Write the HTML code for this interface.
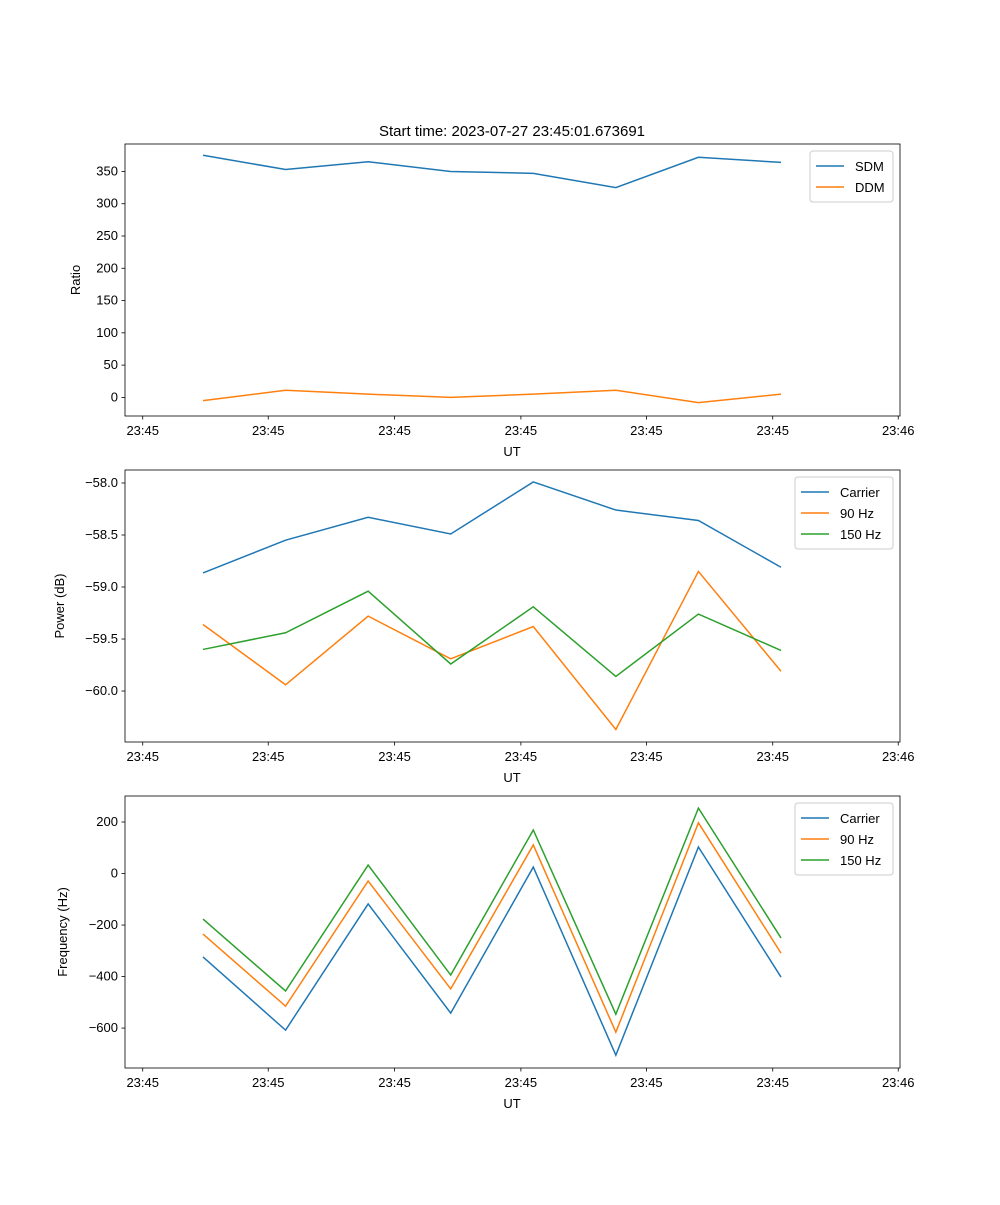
<!DOCTYPE html>
<html><head><meta charset="utf-8"><style>body{margin:0;background:#fff}svg{font-family:"Liberation Sans","DejaVu Sans",sans-serif}</style></head>
<body>
<svg id="fig" width="1000" height="1200" viewBox="0 0 1000 1200">
<text x="512" y="136" font-size="15" text-anchor="middle">Start time: 2023-07-27 23:45:01.673691</text>
</svg>
<script>
const xTickLabels = ["23:45","23:45","23:45","23:45","23:45","23:45","23:46"];
const xTickPos = [-0.73,0.79,2.32,3.85,5.37,6.9,8.42];
const sdm = [375,353,365,350,347,325,372,364];
const ddm = [-5,11,5,0,5,11,-8,5];
const carrierPow = [-58.865,-58.55,-58.33,-58.49,-57.99,-58.26,-58.36,-58.81];
const hz90Pow = [-59.36,-59.94,-59.28,-59.69,-59.38,-60.37,-58.85,-59.81];
const hz150Pow = [-59.6,-59.44,-59.04,-59.74,-59.19,-59.86,-59.26,-59.61];
const carrierFreq = [-324,-608,-118,-542,25,-705,103,-402];
const hz90Freq = [-235,-515,-29,-448,111,-616,197,-309];
const hz150Freq = [-177,-456,33,-394,169,-546,254,-250];
const ticks1 = [0,50,100,150,200,250,300,350];
const ticks2 = [-60.0,-59.5,-59.0,-58.5,-58.0];
const ticks3 = [-600,-400,-200,0,200];
const NS="http://www.w3.org/2000/svg", svg=document.getElementById('fig');
function mk(t,a,p){const e=document.createElementNS(NS,t);for(const k in a)e.setAttribute(k,a[k]);(p||svg).appendChild(e);return e;}
const L=125,R=900;
const xs=i=>203+i*82.57;
function panel(name,top,bot,ymin,ymax,ticks,fmt,ylabel,series,legend){
  const g=mk('g',{});
  
  
  const ys=v=>bot-(v-ymin)/(ymax-ymin)*(bot-top);
  series.forEach(s=>{
    const p=mk('polyline',{points:s.d.map((v,i)=>xs(i)+','+ys(v)).join(' '),fill:'none',stroke:s.c,'stroke-width':1.5},g);
    
    
  });
  const fr=mk('rect',{x:L,y:top,width:R-L,height:bot-top,fill:'none',stroke:'#000','stroke-width':0.8},g);
  
  
  ticks.forEach(t=>{const y=ys(t);mk('line',{x1:L-3.5,x2:L,y1:y,y2:y,stroke:'#000','stroke-width':0.8},g);
    const tx=mk('text',{x:L-7,y:y+4,'font-size':13,'text-anchor':'end'},g);tx.textContent=fmt(t);
    
    });
  xTickPos.forEach((v,i)=>{const x=xs(v);mk('line',{x1:x,x2:x,y1:bot,y2:bot+3.5,stroke:'#000','stroke-width':0.8},g);
    const tx=mk('text',{x:x,y:bot+19,'font-size':13,'text-anchor':'middle'},g);tx.textContent=xTickLabels[i];
    
    });
  const xl=mk('text',{x:512,y:bot+40,'font-size':13,'text-anchor':'middle'},g);xl.textContent='UT';
  
  
  const yl=mk('text',{x:0,y:0,'font-size':13,'text-anchor':'middle',transform:`translate(${legend.yx},${(top+bot)/2}) rotate(-90)`},g);yl.textContent=ylabel;
  
  
  const lg=mk('g',{},g);
  
  
  const w=legend.w,h=series.length*21+9,lx=R-7-w,ly=top+7;
  mk('rect',{x:lx,y:ly,width:w,height:h,fill:'#fff',stroke:'#ccc',rx:3},lg);
  series.forEach((s,i)=>{const y=ly+15+i*21;
    mk('line',{x1:lx+6,x2:lx+34,y1:y,y2:y,stroke:s.c,'stroke-width':1.5},lg);
    const t=mk('text',{x:lx+45,y:y+5,'font-size':13},lg);t.textContent=s.n;
    
    });
}
const B='#1f77b4',O='#ff7f0e',G='#2ca02c';
panel('ratio',144,416,-28.8,392.5,ticks1,t=>t,'Ratio',[{n:'SDM',d:sdm,c:B},{n:'DDM',d:ddm,c:O}],{w:83,yx:80});
panel('power',470,742,-60.49,-57.875,ticks2,t=>t.toFixed(1).replace('-','\u2212'),'Power (dB)',[{n:'Carrier',d:carrierPow,c:B},{n:'90 Hz',d:hz90Pow,c:O},{n:'150 Hz',d:hz150Pow,c:G}],{w:98,yx:64});
panel('freq',796,1068,-755,301,ticks3,t=>String(t).replace('-','\u2212'),'Frequency (Hz)',[{n:'Carrier',d:carrierFreq,c:B},{n:'90 Hz',d:hz90Freq,c:O},{n:'150 Hz',d:hz150Freq,c:G}],{w:98,yx:67});
</script>
</body></html>
